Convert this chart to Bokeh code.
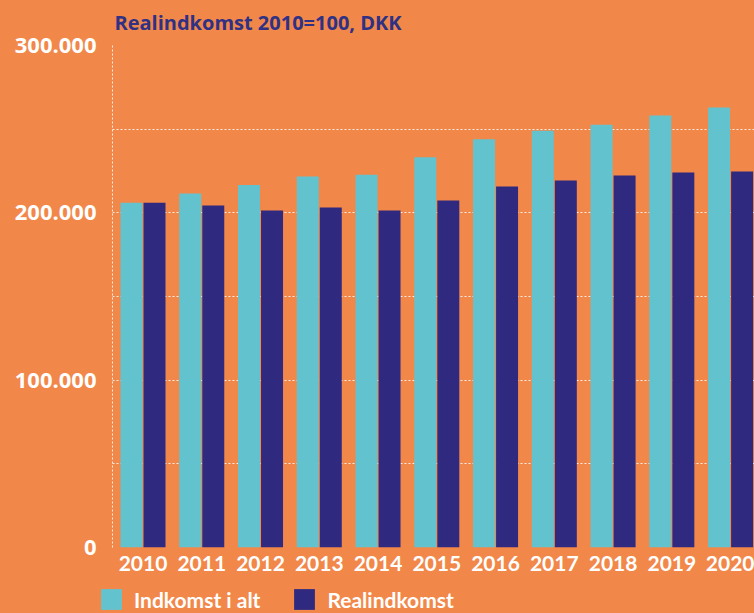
from bokeh.plotting import figure
from bokeh.models import ColumnDataSource, Range1d, FixedTicker, Legend, LegendItem
from bokeh.transform import dodge
from bokeh.embed import file_html
from bokeh.resources import INLINE

years = [2010, 2011, 2012, 2013, 2014, 2015, 2016, 2017, 2018, 2019, 2020]
indkomst = [206000, 211600, 216700, 221700, 222700, 233200, 243900, 249100, 252700, 258200, 263000]
realindkomst = [206000, 204400, 201400, 203200, 201400, 207400, 215700, 219300, 222300, 224100, 224700]
tick_values = [0, 100000, 200000, 300000]
tick_labels = ["0", "100.000", "200.000", "300.000"]
grid_values = [0, 50000, 100000, 150000, 200000, 250000, 300000]
title_text = "Realindkomst 2010=100, DKK"
series_names = ["Indkomst i alt", "Realindkomst"]

BG = "#F2874A"
TEAL = "#62C3CF"
NAVY = "#2F2A80"
TITLE_C = "#2E3184"
FONT = "Lato"
FONT2 = "Open Sans"

src = ColumnDataSource(dict(year=years, indkomst=indkomst, real=realindkomst))

p = figure(width=754, height=575, output_backend="svg", toolbar_location=None,
           x_range=Range1d(2009.481, 2020.407), y_range=Range1d(0, 300000),
           min_border_left=112, min_border_right=0, min_border_top=44, min_border_bottom=28,
           background_fill_color=BG, border_fill_color=BG, outline_line_color=None)

p.title.text = title_text
p.title.text_font = FONT2
p.title.text_font_size = "20px"
p.title.text_font_style = "bold"
p.title.text_color = TITLE_C
p.title.align = "left"
p.title.vertical_align = "top"
p.title.offset = 2
p.title.standoff = 16

r1 = p.vbar(x=dodge('year', -0.196, range=p.x_range), top='indkomst', width=0.374,
            source=src, fill_color=TEAL, line_color=None)
r2 = p.vbar(x=dodge('year', 0.196, range=p.x_range), top='real', width=0.374,
            source=src, fill_color=NAVY, line_color=None)

# grids
p.xgrid.visible = False
p.ygrid.ticker = FixedTicker(ticks=grid_values)
p.ygrid.grid_line_color = "white"
p.ygrid.grid_line_dash = "2 2"
p.ygrid.grid_line_width = 1
p.ygrid.grid_line_alpha = 0.85

# y axis
p.yaxis.ticker = FixedTicker(ticks=tick_values)
p.yaxis.major_label_overrides = {v: l for v, l in zip(tick_values, tick_labels)}
p.yaxis.axis_line_color = "white"
p.yaxis.axis_line_dash = "2 2"
p.yaxis.axis_line_alpha = 0.85
p.yaxis.major_tick_line_color = None
p.yaxis.minor_tick_line_color = None
p.yaxis.major_label_standoff = 10
p.yaxis.major_label_text_font = FONT2
p.yaxis.major_label_text_font_size = "22px"
p.yaxis.major_label_text_font_style = "bold"
p.yaxis.major_label_text_color = "white"

# x axis
p.xaxis.ticker = FixedTicker(ticks=years)
p.xaxis.major_label_overrides = {y: str(y) for y in years}
p.xaxis.axis_line_color = None
p.xaxis.major_tick_line_color = None
p.xaxis.minor_tick_line_color = None
p.xaxis.major_label_standoff = 2
p.xaxis.major_label_text_font = FONT
p.xaxis.major_label_text_font_size = "21px"
p.xaxis.major_label_text_font_style = "bold"
p.xaxis.major_label_text_color = "white"

# legend strip below the chart (series bars live outside its visible range)
p2 = figure(width=754, height=38, output_backend="svg", toolbar_location=None,
            x_axis_location=None, y_axis_location=None,
            x_range=Range1d(0, 1), y_range=Range1d(0, 1), min_border=0,
            min_border_left=0, min_border_right=0, min_border_top=0, min_border_bottom=0,
            background_fill_color=BG, border_fill_color=BG, outline_line_color=None)
p2.grid.visible = False
l1 = p2.vbar(x='year', top='indkomst', width=0.374, source=src, fill_color=TEAL, line_color=None)
l2 = p2.vbar(x='year', top='real', width=0.374, source=src, fill_color=NAVY, line_color=None)

legend = Legend(items=[LegendItem(label=series_names[0], renderers=[l1], index=0),
                       LegendItem(label=series_names[1], renderers=[l2], index=0)],
                orientation="horizontal", location=(98, 1),
                glyph_width=26, glyph_height=26,
                label_text_font=FONT, label_text_font_size="21px",
                label_text_font_style="bold", label_text_color="white",
                label_standoff=10, spacing=31, padding=0, margin=0,
                background_fill_alpha=0, border_line_color=None)
p2.add_layout(legend)

html = file_html([p, p2], INLINE)
html = html.replace("</head>", "<style>html,body{background:#F2874A;overflow:hidden;}</style></head>", 1)
open("out.html", "w").write(html)
